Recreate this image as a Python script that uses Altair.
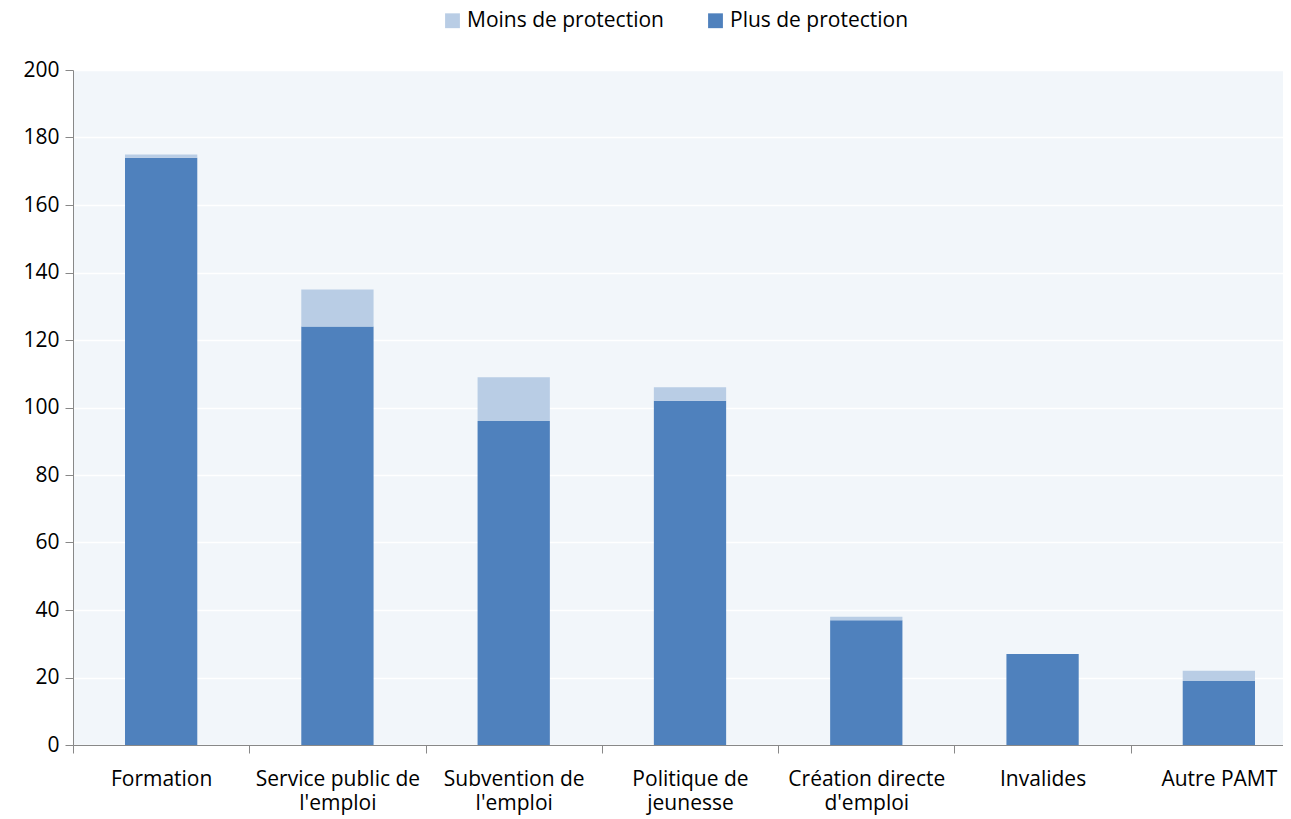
import json
import altair as alt
import pandas as pd

categories = ["Formation", "Service public de l'emploi", "Subvention de l'emploi",
              "Politique de jeunesse", "Création directe d'emploi", "Invalides", "Autre PAMT"]
label_lines = [["Formation"], ["Service public de", "l'emploi"], ["Subvention de", "l'emploi"],
               ["Politique de", "jeunesse"], ["Création directe", "d'emploi"], ["Invalides"], ["Autre PAMT"]]
plus = [174, 124, 96, 102, 37, 27, 19]
moins = [1, 11, 13, 4, 1, 0, 3]
series = ["Moins de protection", "Plus de protection"]
colors = ["#B9CDE5", "#4F81BD"]

rows = []
for c, p, m in zip(categories, plus, moins):
    rows.append({"cat": c, "serie": "Plus de protection", "val": p, "ord": 0})
    rows.append({"cat": c, "serie": "Moins de protection", "val": m, "ord": 1})
df = pd.DataFrame(rows)

label_map = json.dumps(dict(zip(categories, label_lines)), ensure_ascii=False)

FONT = "Open Sans"
FS = 21

chart = alt.Chart(df).mark_bar(width=alt.RelativeBandSize(0.41)).encode(
    x=alt.X("cat:N", sort=categories, title=None,
            scale=alt.Scale(paddingInner=0, paddingOuter=0, range=[0, 1234]),
            axis=alt.Axis(labelAngle=0, labelExpr=f"{label_map}[datum.label]",
                          labelLineHeight=24, labelPadding=15, grid=False,
                          ticks=True, tickBand="extent", tickSize=8,
                          labelFont=FONT, labelFontSize=FS, labelColor="#000000",
                          domainColor="#888888", tickColor="#888888")),
    y=alt.Y("val:Q", stack="zero", title=None,
            scale=alt.Scale(domain=[0, 200], nice=False),
            axis=alt.Axis(values=list(range(0, 201, 20)), tickSize=8,
                          labelFont=FONT, labelFontSize=FS, labelColor="#000000",
                          domainColor="#888888", tickColor="#888888",
                          gridColor="#FFFFFF", gridWidth=1.5, labelPadding=6)),
    color=alt.Color("serie:N", sort=series,
                    scale=alt.Scale(domain=series, range=colors),
                    legend=alt.Legend(title=None, orient="none", direction="horizontal",
                                      legendX=369, legendY=-60, symbolType="square",
                                      symbolSize=220, symbolStrokeWidth=0, labelLimit=500,
                                      columnPadding=41, labelFontSize=FS, labelFont=FONT,
                                      labelColor="#000000", symbolOpacity=1)),
    order=alt.Order("ord:Q"),
).properties(
    width=1210, height=675,
    padding={"left": 65, "top": 62, "right": 0, "bottom": 70},
    autosize=alt.AutoSizeParams(type="none"),
    background="#FFFFFF",
).configure_view(
    fill="#F2F6FA", stroke=None
)

chart.save("out.html", embed_options={"renderer": "svg", "actions": False})
